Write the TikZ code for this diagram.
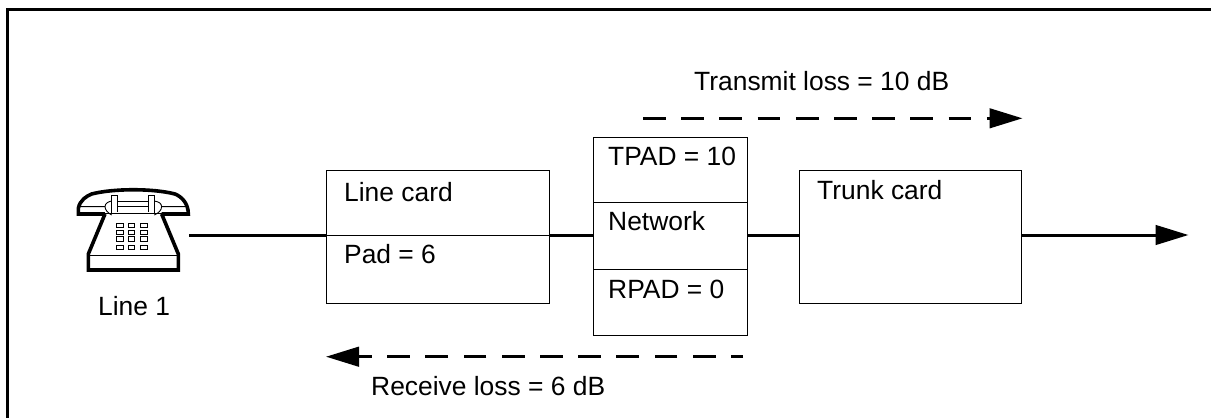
\documentclass[tikz,border=0pt]{standalone}
\usepackage{fontspec}
\setmainfont{Liberation Sans}
\usetikzlibrary{arrows.meta}
\tikzset{
	frameline/.style={line width=3pt},
	boxcard/.style={draw, line width=1pt},
	wire/.style={line width=3pt},
	flow/.style={line width=3pt, dash pattern=on 22.7pt off 15.5pt},
	tip/.style={-{Triangle[length=33pt,width=19.5pt]}},
	lbl/.style={anchor=base west, inner sep=0pt, font=\fontsize{26.4}{30}\selectfont},
	phone/.style={line width=3.6pt, line join=miter},
	phonethin/.style={line width=.9pt}
}
\begin{document}
\begin{tikzpicture}[x=1pt,y=-1pt]
\useasboundingbox (0,0) rectangle (1211,418);
\draw[frameline] (1211,9.5) -- (7.5,9.5) -- (7.5,418);
% boxes
\node[boxcard, minimum width=222.5pt, minimum height=133pt] (linecard) at (438.2,236.8) {};
\node[boxcard, minimum width=154pt, minimum height=198.7pt] (network) at (670.3,236.6) {};
\node[boxcard, minimum width=222.5pt, minimum height=133pt] (trunkcard) at (910.7,236.8) {};
\coordinate (axis) at (0,235);
\draw[boxcard] (linecard.west |- axis) -- (linecard.east |- axis);
\coordinate (netA) at (593.3,202.3);
\coordinate (netB) at (747.3,202.3);
\coordinate (netC) at (593.3,269.3);
\coordinate (netD) at (747.3,269.3);
\draw[boxcard] (netA) -- (netB);
\draw[boxcard] (netC) -- (netD);
% wires
\coordinate (phoneout) at (189,235);
\coordinate (lineend) at (1188.5,235);
\draw[wire] (phoneout) -- (linecard.west |- axis);
\draw[wire] (linecard.east |- axis) -- (network.west |- axis);
\draw[wire] (network.east |- axis) -- (trunkcard.west |- axis);
\draw[wire,tip] (trunkcard.east |- axis) -- (lineend);
% flows
\coordinate (txa) at (643,118.3);
\coordinate (txb) at (1022.5,118.3);
\coordinate (rxa) at (743,356.7);
\coordinate (rxb) at (326,356.7);
\draw[flow,tip] (txa) -- (txb);
\draw[flow,tip,dash phase=10.7pt] (rxa) -- (rxb);
% labels
\node[lbl] (txlabel) at (694,90) {Transmit loss = 10 dB};
\node[lbl] (rxlabel) at (371,395) {Receive loss = 6 dB};
\node[lbl] (linelabel) at (344,201) {Line card};
\node[lbl] (padlabel) at (344,263) {Pad = 6};
\node[lbl] (tpadlabel) at (608,165.5) {TPAD = 10};
\node[lbl] (netlabel) at (608,230) {Network};
\node[lbl] (rpadlabel) at (608,298) {RPAD = 0};
\node[lbl] (trunklabel) at (817,199) {Trunk card};
\node[lbl] (phonelabel) at (98,315.5) {Line 1};
% telephone
\begin{scope}[shift={(60,170)},x=.3333pt,y=-.3333pt]
\draw[phone] (135,132) -- (85,252) -- (85,300) -- (355,300) -- (355,252) -- (305,132);
\draw[phonethin] (85,255) -- (355,255);
\draw[phonethin] (135,130) -- (305,130);
\draw[phone] (135,132) -- (55,132) -- (55,115) .. controls (60,90) and (80,78) .. (95,72)
	.. controls (160,55) and (280,55) .. (345,72) .. controls (365,80) and (385,100) .. (385,132) -- (305,132);
\draw[phonethin] (57,110) -- (135,110) .. controls (135,100) and (145,95) .. (155,93);
\draw[phonethin] (383,110) -- (305,110) .. controls (305,100) and (295,95) .. (283,93);
\draw[phonethin] (135,110) .. controls (135,120) and (145,130) .. (155,135);
\draw[phonethin] (305,110) .. controls (305,120) and (295,130) .. (283,135);
\draw[phonethin] (155,75) -- (155,130) (172,75) -- (172,125) (265,75) -- (265,125) (283,75) -- (283,130);
\draw[phonethin] (155,75) -- (172,75) (265,75) -- (283,75);
\draw[phonethin] (172,95) -- (265,95) (172,110) -- (265,110);
\foreach \c in {170,205,242}
	\foreach \r in {160,180,200,225}
		\draw[phonethin] (\c,\r) rectangle +(19,13);
\end{scope}
\end{tikzpicture}
\end{document}
